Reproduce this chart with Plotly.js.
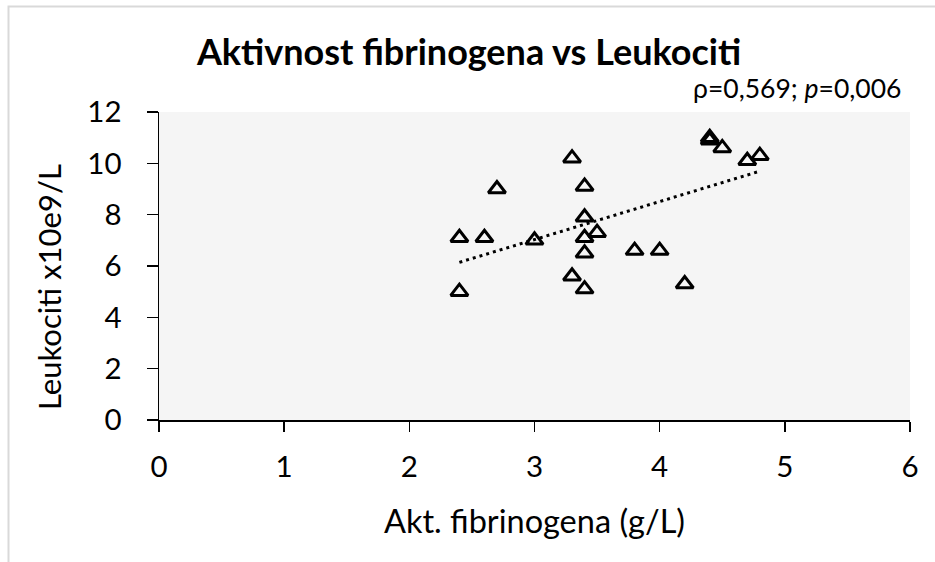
<!DOCTYPE html>
<html>
<head>
<meta charset="utf-8">
<script src="https://cdn.plot.ly/plotly-3.0.1.min.js"></script>
<style>
html,body{margin:0;padding:0;background:#fff;}
#chart{width:935px;height:562px;}
</style>
</head>
<body>
<div id="chart"></div>
<script>
// Data
const fibrinogen = [2.4, 2.4, 2.6, 2.7, 3.0, 3.3, 3.3, 3.4, 3.4, 3.4, 3.4, 3.4, 3.5, 3.8, 4.0, 4.2, 4.4, 4.4, 4.5, 4.7, 4.8];
const leukociti  = [7.1, 5.0, 7.1, 9.0, 7.0, 10.2, 5.6, 9.1, 7.9, 7.1, 6.5, 5.1, 7.3, 6.6, 6.6, 5.3, 11.0, 10.9, 10.6, 10.1, 10.3];
const xTicks = [0, 1, 2, 3, 4, 5, 6];
const yTicks = [0, 2, 4, 6, 8, 10, 12];
const titleText = 'Aktivnost fibrinogena vs Leukociti';
const xTitle = 'Akt. fibrinogena (g/L)';
const yTitle = 'Leukociti x10e9/L';
const statText = 'ρ=0,569; <i>p</i>=0,006';

// Linear least-squares trendline derived from the data
const n = fibrinogen.length;
const mx = fibrinogen.reduce((a, b) => a + b, 0) / n;
const my = leukociti.reduce((a, b) => a + b, 0) / n;
let sxy = 0, sxx = 0;
for (let i = 0; i < n; i++) {
  sxy += (fibrinogen[i] - mx) * (leukociti[i] - my);
  sxx += (fibrinogen[i] - mx) * (fibrinogen[i] - mx);
}
const slope = sxy / sxx;
const intercept = my - slope * mx;
const xMin = Math.min(...fibrinogen), xMax = Math.max(...fibrinogen);
const trendX = [xMin, xMax];
const trendY = trendX.map(v => intercept + slope * v);

const FONT = 'Lato, Carlito, Calibri, sans-serif';

const traces = [
  {
    x: trendX, y: trendY, mode: 'lines', type: 'scatter',
    line: {color: '#000', width: 3, dash: '3px,4px'},
    hoverinfo: 'skip'
  },
  {
    x: fibrinogen, y: leukociti, mode: 'markers', type: 'scatter',
    marker: {symbol: 'triangle-up-open', size: 15, color: '#000', line: {color: '#000', width: 3}}
  }
];

const layout = {
  width: 935, height: 562,
  margin: {l: 159, r: 25, t: 112, b: 142},
  paper_bgcolor: '#ffffff',
  plot_bgcolor: '#f5f5f5',
  showlegend: false,
  font: {family: FONT, color: '#000'},
  title: {
    text: '<b>' + titleText + '</b>',
    font: {family: FONT, size: 36, color: '#000'},
    x: 469 / 935, xref: 'container', xanchor: 'center',
    y: 1 - 52 / 562, yref: 'container', yanchor: 'middle'
  },
  xaxis: {
    range: [0, 6], tickvals: xTicks, ticktext: xTicks.map(String),
    showgrid: false, zeroline: false,
    showline: true, linecolor: '#000', linewidth: 1.5,
    ticks: 'outside', ticklen: 10, tickwidth: 1.5, tickcolor: '#000',
    tickfont: {family: FONT, size: 29.5, color: '#000'},
    ticklabelstandoff: 10,
    title: {text: xTitle, font: {family: FONT, size: 32.5, color: '#000'}, standoff: 28}
  },
  yaxis: {
    range: [0, 12], tickvals: yTicks, ticktext: yTicks.map(String),
    showgrid: false, zeroline: false,
    showline: true, linecolor: '#000', linewidth: 1.5,
    ticks: 'outside', ticklen: 11, tickwidth: 1.5, tickcolor: '#000',
    tickfont: {family: FONT, size: 29.5, color: '#000'},
    ticklabelstandoff: 19
  },
  annotations: [
    {
      text: yTitle, xref: 'paper', yref: 'paper',
      x: (49 - 159) / 751, y: (420 - 287) / 308,
      xanchor: 'center', yanchor: 'middle', textangle: -90, showarrow: false,
      font: {family: FONT, size: 31, color: '#000'}
    },
    {
      text: statText, xref: 'paper', yref: 'paper',
      x: (903 - 159) / 751, y: (420 - 88) / 308,
      xanchor: 'right', yanchor: 'middle', showarrow: false,
      font: {family: FONT, size: 26.5, color: '#000'}
    }
  ],
  shapes: [
    {
      type: 'rect', xref: 'paper', yref: 'paper',
      x0: (8.5 - 159) / 751, x1: 1.2, y0: -0.6, y1: (420 - 6.5) / 308,
      line: {color: '#d9d9d9', width: 2}, fillcolor: 'rgba(0,0,0,0)', layer: 'below'
    }
  ]
};

Plotly.newPlot('chart', traces, layout, {displayModeBar: false, staticPlot: true});
</script>
</body>
</html>
